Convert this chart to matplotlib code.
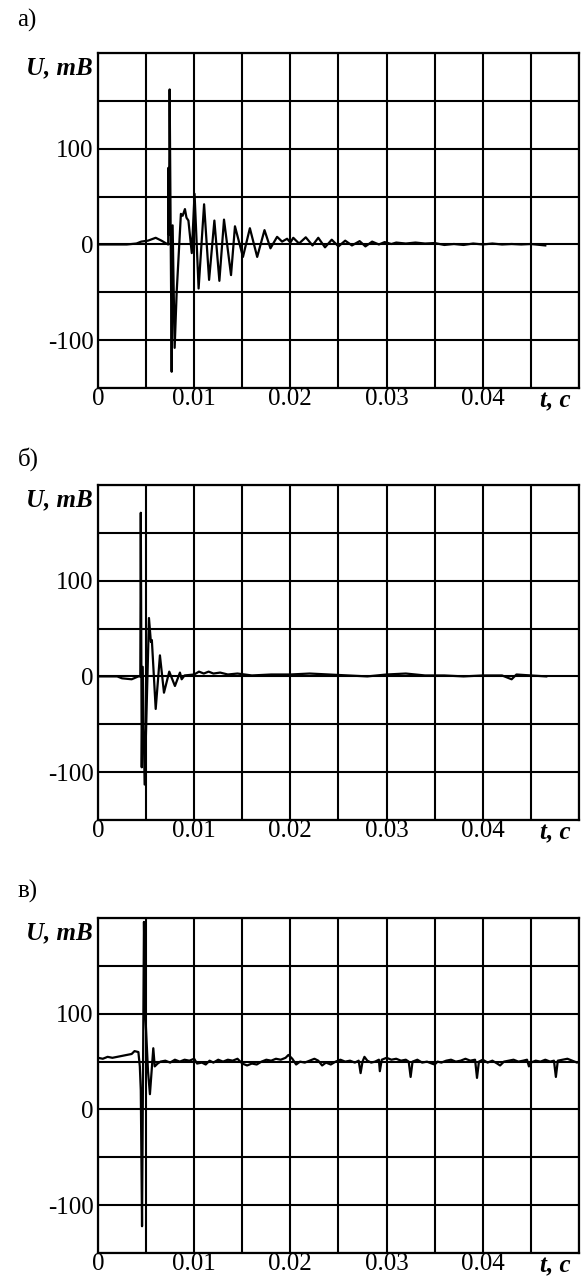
import matplotlib
matplotlib.use("Agg")
import matplotlib.pyplot as plt
from matplotlib.ticker import MultipleLocator, FixedLocator

plt.rcParams['font.family'] = ['Liberation Serif', 'DejaVu Serif']

# --- panel a) ---
t_a = [0, 0.0030, 0.0040, 0.0045, 0.0052, 0.0060, 0.0066, 0.0071, 0.0073,
       0.00731, 0.00738, 0.00745, 0.00766, 0.00776, 0.00797, 0.00818,
       0.00862, 0.00880, 0.00904, 0.00920, 0.00940, 0.00975, 0.01004,
       0.01046, 0.01103, 0.01155, 0.01210, 0.01262, 0.01310, 0.01383,
       0.01424, 0.01507, 0.01579, 0.01655, 0.01731, 0.01793, 0.01862,
       0.01914, 0.01966, 0.02000, 0.0203, 0.0209, 0.0216, 0.0223, 0.0229,
       0.0236, 0.0243, 0.0250, 0.0257, 0.0264, 0.0272, 0.0278, 0.0285,
       0.0292, 0.0298, 0.0305, 0.0310, 0.0320, 0.0330, 0.0340, 0.0350,
       0.0360, 0.0370, 0.0380, 0.0390, 0.0400, 0.0410, 0.0420, 0.0430,
       0.0440, 0.0450, 0.0465]
u_a = [0, 0, 1, 3, 4, 7, 4, 1, 0,
       80, 10, 162, -133, 20, -108, -50,
       32, 30, 37, 28, 25, -9, 53,
       -46, 42, -37, 25, -38, 26, -32,
       19, -13, 17, -13, 15, -4, 8,
       3, 6, 2, 7, 1, 7.5, -1, 7,
       -3, 5, -2, 4, -1, 3.5, -2, 3,
       0, 2.5, 0.5, 2, 1, 2, 1, 1.5,
       -0.5, 0.5, -0.5, 1, 0, 1, 0, 0.5,
       0, 0.5, -1]

# --- panel б) ---
t_b = [0, 0.0020, 0.0025, 0.0035, 0.0042, 0.00440, 0.00445, 0.00455,
       0.00465, 0.00485, 0.00530, 0.00550, 0.00560, 0.00600, 0.00644,
       0.00686, 0.00741, 0.00800, 0.00852, 0.00870, 0.0090, 0.0100,
       0.0105, 0.0110, 0.0115, 0.0120, 0.0127, 0.0135, 0.0145, 0.0160,
       0.0180, 0.0200, 0.0220, 0.0240, 0.0260, 0.0280, 0.0300, 0.0320,
       0.0340, 0.0360, 0.0380, 0.0400, 0.0420, 0.0430, 0.0435, 0.0450,
       0.0466]
u_b = [0, 0, -2, -3, 0, 0, 171, -95,
       10, -113, 61, 36, 38, -34, 22,
       -17, 5, -10, 4, -3, 1, 2,
       5, 3, 5, 3, 4, 2, 3, 1,
       2, 2, 3, 2, 1, 0, 2, 3,
       1, 1, 0, 1, 1, -3, 2, 1,
       0]

# --- panel в) ---
t_c = [0, 0.0005, 0.0010, 0.0015, 0.0020, 0.0025, 0.0030, 0.0035, 0.0038,
       0.0042, 0.00435, 0.00445, 0.00458, 0.00478, 0.00492, 0.0052, 0.0054,
       0.00575, 0.0059, 0.0062, 0.0065,
       0.0070, 0.0075, 0.0080, 0.0085, 0.0090, 0.0095, 0.0100, 0.0103,
       0.0108, 0.0112, 0.0116, 0.0120, 0.0125, 0.0130, 0.0135, 0.0140,
       0.0145, 0.0150, 0.0155, 0.0160, 0.0165, 0.0170, 0.0175, 0.0180,
       0.0185, 0.0190, 0.0195, 0.0198, 0.0202, 0.0206, 0.0210, 0.0215,
       0.0220, 0.0225, 0.0229, 0.0233, 0.0237, 0.0242, 0.0247, 0.0252,
       0.0257, 0.0262, 0.0267, 0.0271, 0.0273, 0.0275, 0.0277, 0.0280,
       0.0284, 0.0288, 0.0292, 0.0293, 0.0295, 0.0300, 0.0305, 0.0310,
       0.0315, 0.0320, 0.0323, 0.0325, 0.0327, 0.0332, 0.0337, 0.0342,
       0.0347, 0.0350, 0.0353, 0.0357, 0.0362, 0.0367, 0.0372, 0.0377,
       0.0382, 0.0387, 0.0392, 0.0394, 0.0396, 0.0400, 0.0405, 0.0410,
       0.0415, 0.0418, 0.0422, 0.0427, 0.0432, 0.0437, 0.0442, 0.0446,
       0.0448, 0.0450, 0.0455, 0.0460, 0.0465, 0.0470, 0.0474, 0.0476,
       0.0478, 0.0483, 0.0488, 0.0493, 0.0498, 0.0500]
u_c = [54, 53, 55, 54, 55, 56, 57, 58, 61,
       60, 45, 20, -122, 196, 100, 40, 16,
       64, 45, 48, 50,
       51, 49, 52, 50, 52, 51, 53, 48,
       49, 47, 51, 49, 52, 50, 52, 51,
       53, 48, 46, 48, 47, 50, 52, 51,
       53, 52, 54, 57, 53, 47, 50, 49,
       51, 53, 51, 46, 49, 47, 50, 52,
       50, 51, 49, 51, 38, 50, 55, 51,
       49, 50, 52, 40, 52, 54, 52, 53,
       51, 52, 50, 34, 50, 52, 49, 50,
       48, 47, 50, 49, 51, 52, 50, 51,
       53, 51, 52, 33, 50, 52, 49, 51,
       48, 46, 50, 51, 52, 50, 51, 52,
       45, 49, 51, 50, 52, 50, 51, 34,
       51, 52, 53, 51, 49, 50]

panels = [
    {'t': t_a, 'u': u_a, 'label': 'а)', 'bottom': 0.6959, 'ly': 0.984},
    {'t': t_b, 'u': u_b, 'label': 'б)', 'bottom': 0.3574, 'ly': 0.640},
    {'t': t_c, 'u': u_c, 'label': 'в)', 'bottom': 0.0180, 'ly': 0.301},
]

fig = plt.figure(figsize=(5.86, 12.76), dpi=100)

for p in panels:
    ax = fig.add_axes([0.1672, p['bottom'], 0.8208, 0.2625])
    ax.plot(p['t'], p['u'], color='black', linewidth=1.6, zorder=3)

    ax.set_xlim(0, 0.05)
    ax.set_ylim(-150, 200)
    ax.xaxis.set_major_locator(FixedLocator([0, 0.01, 0.02, 0.03, 0.04]))
    ax.xaxis.set_minor_locator(MultipleLocator(0.005))
    ax.yaxis.set_major_locator(FixedLocator([-100, 0, 100]))
    ax.yaxis.set_minor_locator(MultipleLocator(50))
    ax.set_xticklabels(['0', '0.01', '0.02', '0.03', '0.04'])
    ax.set_yticklabels(['-100', '0', '100'])
    ax.grid(True, which='both', color='black', linewidth=1.5)
    ax.tick_params(which='both', length=0, labelsize=18)
    ax.tick_params(axis='y', pad=3)
    ax.tick_params(axis='x', pad=0)
    for s in ax.spines.values():
        s.set_linewidth(1.6)

    ax.text(-0.012, 0.955, 'U, mB', transform=ax.transAxes, ha='right', va='center',
            fontsize=18, fontweight='bold', fontstyle='italic')
    ax.text(0.95, -0.038, 't, c', transform=ax.transAxes, ha='center', va='center',
            fontsize=18, fontweight='bold', fontstyle='italic')
    fig.text(0.030, p['ly'], p['label'], ha='left', va='center', fontsize=18)

plt.savefig("out.png", dpi=100)
